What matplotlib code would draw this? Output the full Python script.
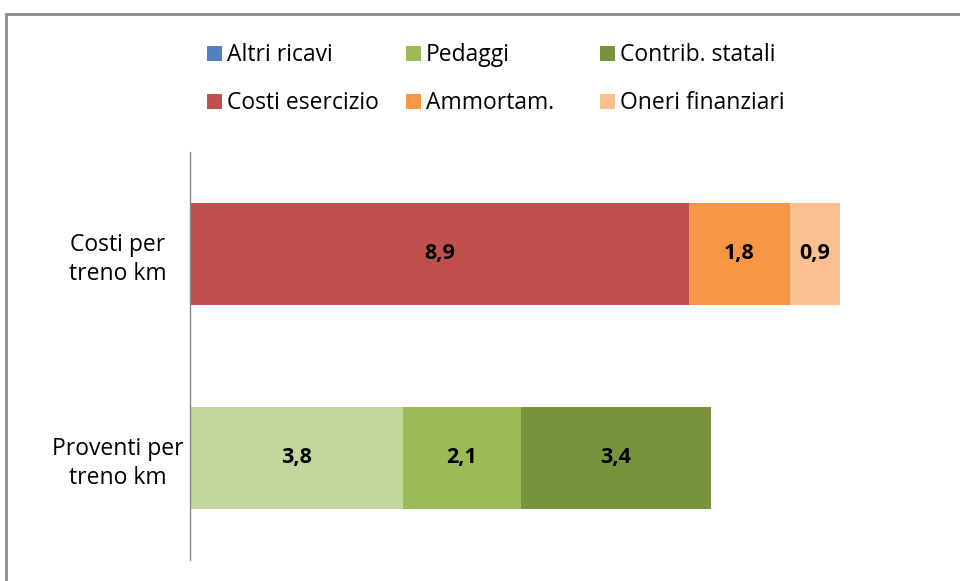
import matplotlib.pyplot as plt
from matplotlib.patches import Rectangle

# -------------------- data -------------------- #
categories = ["Proventi per\ntreno km", "Costi per\ntreno km"]

legend_labels = ["Altri ricavi", "Pedaggi", "Contrib. statali",
                 "Costi esercizio", "Ammortam.", "Oneri finanziari"]
legend_colors = ["#4F81BD", "#9BBB59", "#77933C",
                 "#C0504D", "#F79646", "#FAC090"]

# stacked segments per category (value, color)
proventi_values = [3.8, 2.1, 3.4]
proventi_colors = ["#C3D69B", "#9BBB59", "#77933C"]
costi_values = [8.9, 1.8, 0.9]
costi_colors = ["#C0504D", "#F79646", "#FAC090"]

plt.rcParams['font.family'] = ['Open Sans', 'DejaVu Sans']

fig = plt.figure(figsize=(9.6, 5.81), dpi=100)
ax = fig.add_axes([190 / 960, 1 - 560 / 581, 0.78, (560 - 152) / 581])

# -------------------- bars -------------------- #
rows = [(0, proventi_values, proventi_colors), (1, costi_values, costi_colors)]
for y, vals, cols in rows:
    left = 0
    for v, c in zip(vals, cols):
        ax.barh(y, v, left=left, height=0.5, color=c, edgecolor='none')
        ax.text(left + v / 2, y, f"{v:.1f}".replace('.', ','), ha='center', va='center',
                fontsize=15.5, fontweight='bold', color='black')
        left += v

ax.set_ylim(-0.5, 1.5)
ax.set_xlim(0, 13.36)
ax.set_yticks([0, 1])
ax.set_yticklabels(categories, fontsize=16.5, ha='center', linespacing=1.3)
ax.tick_params(axis='y', length=0, pad=52)
ax.set_xticks([])
for s in ['top', 'right', 'bottom']:
    ax.spines[s].set_visible(False)
ax.spines['left'].set_color('#888888')
ax.spines['left'].set_linewidth(1.0)

# -------------------- legend (two rows of three) -------------------- #
col_x = [207, 406, 600]
row_y = [55, 103]
for i, (lab, col) in enumerate(zip(legend_labels, legend_colors)):
    px = col_x[i % 3]
    py = row_y[i // 3]
    fig.patches.append(Rectangle((px / 960, 1 - (py + 6) / 581), 15 / 960, 15 / 581,
                                 transform=fig.transFigure, facecolor=col, edgecolor='none'))
    fig.text((px + 20) / 960, 1 - py / 581, lab, ha='left', va='center', fontsize=16.5)

# outer chart frame
fig.patches.append(Rectangle((6 / 960, -0.1), 1.2, 1.1 - 14 / 581, transform=fig.transFigure,
                             facecolor='none', edgecolor='#8C8C8C', linewidth=2.0))

fig.savefig("out.png", dpi=100)
